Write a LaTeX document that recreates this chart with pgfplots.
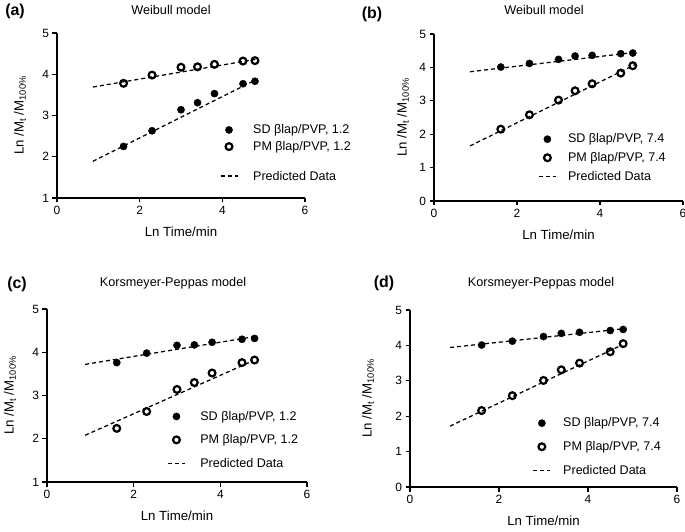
\documentclass[border=0pt]{standalone}
\usepackage{pgfplots}
\pgfplotsset{compat=1.18}
\usepackage{fontspec}
\setmainfont{Liberation Sans}

\newcommand{\tickfs}{\fontsize{12}{14}\selectfont}
\newcommand{\labfs}{\fontsize{13.3}{15}\selectfont}
\newcommand{\legfs}{\fontsize{12.6}{14}\selectfont}
\newcommand{\ttlfs}{\fontsize{12.7}{15}\selectfont}
\pgfplotsset{
 panel/.style={
  scale only axis,
  axis x line=bottom, axis y line=left,
  axis line style={-, line width=1.2bp},
  xmin=0, xmax=6, xtick={0,2,4,6},
  tick align=outside, major tick length=4.5bp,
  every tick/.style={black, line width=1.2bp},
  tick label style={font=\tickfs},
  /pgf/number format/assume math mode=true,
  label style={font=\labfs},
  xlabel={Ln Time/min},
  ylabel={Ln /M\textsubscript{t} /M\textsubscript{100\%}},
  xlabel style={at={(axis description cs:0.5,0)}, anchor=center, yshift=-34bp},
  legend style={draw=none, fill=none, font=\legfs, cells={anchor=west}, inner sep=0pt, anchor=north west},
  legend cell align=left,
  clip=false,
 },
 filled/.style={only marks, mark=*, mark size=3.6bp, black},
 open/.style={only marks, mark=o, mark size=3.4bp, black, line width=2.2bp},
 pred/.style={dash pattern=on 4bp off 3bp, line width=1.25bp, black, no marks},
}

\begin{document}
\begin{tikzpicture}
\useasboundingbox (0,0) rectangle (685bp,532bp);

% titles and panel labels
\node[font=\ttlfs] at (171bp,522bp) {Weibull model};
\node[font=\ttlfs] at (544bp,522bp) {Weibull model};
\node[font=\ttlfs] at (173bp,249bp) {Korsmeyer-Peppas model};
\node[font=\ttlfs] at (541bp,249bp) {Korsmeyer-Peppas model};
\node[font=\fontsize{16}{18}\selectfont\bfseries] at (15bp,521bp) {(a)};
\node[font=\fontsize{16}{18}\selectfont\bfseries] at (372bp,518bp) {(b)};
\node[font=\fontsize{16}{18}\selectfont\bfseries] at (17bp,248bp) {(c)};
\node[font=\fontsize{16}{18}\selectfont\bfseries] at (384bp,249bp) {(d)};

% (a)
\begin{axis}[panel, at={(57bp,334bp)}, anchor=south west, width=248bp, height=165bp,
  ymin=1, ymax=5, ytick={1,2,3,4,5},
  ylabel style={at={(axis description cs:0,0.5)}, anchor=center, yshift=37bp},
  legend style={at={(0.656,0.458)}, row sep=2.1bp, column sep=13bp}]
\addplot[filled] coordinates {(1.61,2.25) (2.30,2.63) (3.00,3.14) (3.40,3.31) (3.81,3.53) (4.50,3.77) (4.79,3.83)};
\addlegendentry{SD βlap/PVP, 1.2}
\addplot[open] coordinates {(1.61,3.78) (2.30,3.98) (3.00,4.17) (3.40,4.18) (3.81,4.24) (4.50,4.32) (4.79,4.33)};
\addlegendentry{PM βlap/PVP, 1.2}
\addplot[pred, legend image post style={yshift=-6.3bp}] coordinates {(0.87,3.69) (4.80,4.36)};
\addlegendentry{\rule{0pt}{22.1bp}Predicted Data}
\addplot[pred, forget plot] coordinates {(0.87,1.89) (4.80,3.86)};
\end{axis}

% (b)
\begin{axis}[panel, at={(434bp,331bp)}, anchor=south west, width=249bp, height=167bp,
  ymin=0, ymax=5, ytick={0,1,2,3,4,5},
  ylabel style={at={(axis description cs:0,0.5)}, anchor=center, yshift=31bp},
  legend style={at={(0.418,0.415)}, row sep=4bp, column sep=9.5bp}]
\addplot[filled] coordinates {(1.61,4.01) (2.30,4.12) (3.00,4.24) (3.40,4.34) (3.81,4.36) (4.50,4.41) (4.79,4.43)};
\addlegendentry{SD βlap/PVP, 7.4}
\addplot[open] coordinates {(1.61,2.15) (2.30,2.58) (3.00,3.02) (3.40,3.30) (3.81,3.51) (4.50,3.83) (4.79,4.05)};
\addlegendentry{PM βlap/PVP, 7.4}
\addplot[pred] coordinates {(0.87,3.87) (4.84,4.45)};
\addlegendentry{Predicted Data}
\addplot[pred, forget plot] coordinates {(0.87,1.65) (4.84,4.08)};
\end{axis}

% (c)
\begin{axis}[panel, at={(47bp,50bp)}, anchor=south west, width=260bp, height=173bp,
  ymin=1, ymax=5, ytick={1,2,3,4,5},
  ylabel style={at={(axis description cs:0,0.5)}, anchor=center, yshift=37bp},
  legend style={at={(0.462,0.422)}, row sep=8.8bp, column sep=12.8bp}]
\addplot[filled] coordinates {(1.61,3.76) (2.30,3.98) (3.00,4.16) (3.40,4.17) (3.81,4.23) (4.50,4.30) (4.79,4.32)};
\addlegendentry{SD βlap/PVP, 1.2}
\addplot[open] coordinates {(1.61,2.24) (2.30,2.63) (3.00,3.14) (3.40,3.30) (3.81,3.52) (4.50,3.76) (4.79,3.82)};
\addlegendentry{PM βlap/PVP, 1.2}
\addplot[pred] coordinates {(0.88,3.72) (4.84,4.37)};
\addlegendentry{Predicted Data}
\addplot[pred, forget plot] coordinates {(0.88,2.08) (4.75,3.80)};
\end{axis}

% (d)
\begin{axis}[panel, at={(410bp,45bp)}, anchor=south west, width=267bp, height=177bp,
  ymin=0, ymax=5, ytick={0,1,2,3,4,5},
  ylabel style={at={(axis description cs:0,0.5)}, anchor=center, yshift=42bp},
  legend style={at={(0.459,0.403)}, row sep=9bp, column sep=10.2bp}]
\addplot[filled] coordinates {(1.61,4.01) (2.30,4.12) (3.00,4.25) (3.40,4.34) (3.81,4.37) (4.50,4.42) (4.79,4.45)};
\addlegendentry{SD βlap/PVP, 7.4}
\addplot[open] coordinates {(1.61,2.16) (2.30,2.58) (3.00,3.01) (3.40,3.31) (3.81,3.50) (4.50,3.82) (4.79,4.05)};
\addlegendentry{PM βlap/PVP, 7.4}
\addplot[pred] coordinates {(0.90,3.94) (4.79,4.47)};
\addlegendentry{Predicted Data}
\addplot[pred, forget plot] coordinates {(0.90,1.72) (4.76,4.01)};
\end{axis}
\end{tikzpicture}
\end{document}
